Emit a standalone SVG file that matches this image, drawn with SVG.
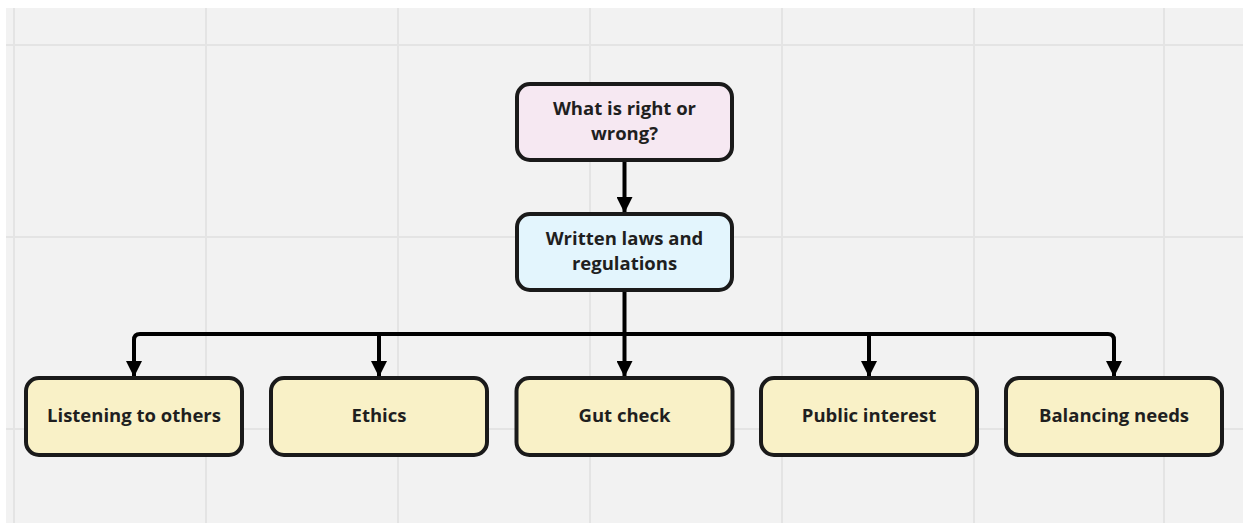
<svg xmlns="http://www.w3.org/2000/svg" width="1243" height="523" viewBox="0 0 1243 523">
<style>
.node rect{stroke:#1a1a1a;stroke-width:4}
.pink{fill:#f6e8f2}
.blue{fill:#e3f5fd}
.yellow{fill:#f9f1c7}
text{font-family:"Open Sans","Noto Sans",sans-serif;font-weight:700;font-size:18.5px;fill:#1f1f1f;text-anchor:middle}
.grid line{stroke:#e4e4e4;stroke-width:2}
.conn path{fill:none;stroke:#000;stroke-width:4;stroke-linejoin:round}
</style>
<defs>
<marker id="ah" viewBox="0 0 16 16" markerWidth="16" markerHeight="16" refX="16" refY="8" orient="auto" markerUnits="userSpaceOnUse">
<path d="M0,0 L16,8 L0,16 Z" fill="#000"/>
</marker>
</defs>
<rect width="1243" height="523" fill="#ffffff"/>
<rect x="6" y="8" width="1237" height="515" fill="#f2f2f2"/>
<g class="grid">
<line x1="14" y1="8" x2="14" y2="523"/>
<line x1="206" y1="8" x2="206" y2="523"/>
<line x1="398" y1="8" x2="398" y2="523"/>
<line x1="590" y1="8" x2="590" y2="523"/>
<line x1="782" y1="8" x2="782" y2="523"/>
<line x1="974" y1="8" x2="974" y2="523"/>
<line x1="1164" y1="8" x2="1164" y2="523"/>
<line x1="6" y1="45" x2="1243" y2="45"/>
<line x1="6" y1="237" x2="1243" y2="237"/>
<line x1="6" y1="429" x2="1243" y2="429"/>
</g>
<g class="conn">
<path d="M624.5,161 V213" marker-end="url(#ah)"/>
<path d="M624.5,291 V377" marker-end="url(#ah)"/>
<path d="M624.5,334 H140 Q134,334 134,340 V377" marker-end="url(#ah)"/>
<path d="M624.5,334 H379 V377" marker-end="url(#ah)"/>
<path d="M624.5,334 H869 V377" marker-end="url(#ah)"/>
<path d="M624.5,334 H1108 Q1114,334 1114,340 V377" marker-end="url(#ah)"/>
</g>
<g id="n-top" class="node"><rect class="pink" x="517" y="84" width="215" height="76" rx="13"/><text x="624.5" y="115">What is right or</text><text x="624.5" y="140">wrong?</text></g>
<g id="n-laws" class="node"><rect class="blue" x="517" y="214" width="215" height="76" rx="13"/><text x="624.5" y="245">Written laws and</text><text x="624.5" y="270">regulations</text></g>
<g id="n-listen" class="node"><rect class="yellow" x="26" y="378" width="216" height="77" rx="13"/><text x="134" y="422">Listening to others</text></g>
<g id="n-ethics" class="node"><rect class="yellow" x="271" y="378" width="216" height="77" rx="13"/><text x="379" y="422">Ethics</text></g>
<g id="n-gut" class="node"><rect class="yellow" x="516.5" y="378" width="216" height="77" rx="13"/><text x="624.5" y="422">Gut check</text></g>
<g id="n-public" class="node"><rect class="yellow" x="761" y="378" width="216" height="77" rx="13"/><text x="869" y="422">Public interest</text></g>
<g id="n-balance" class="node"><rect class="yellow" x="1006" y="378" width="216" height="77" rx="13"/><text x="1114" y="422">Balancing needs</text></g>
</svg>
